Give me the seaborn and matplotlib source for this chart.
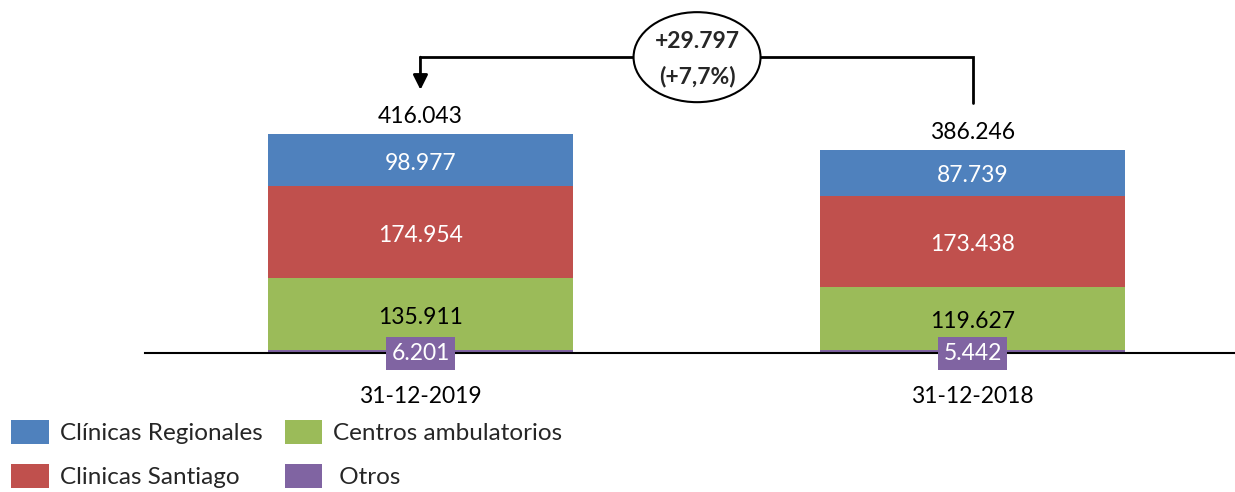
import matplotlib
matplotlib.use("Agg")
import matplotlib.pyplot as plt
from matplotlib.patches import Ellipse, Patch
import numpy as np
import pandas as pd
import seaborn as sns

# Data (stack order from bottom to top)
periods = ["31-12-2019", "31-12-2018"]
otros = [6.201, 5.442]
centros = [135.911, 119.627]
santiago = [174.954, 173.438]
regionales = [98.977, 87.739]
totals = [416.043, 386.246]
variation_abs = "+29.797"
variation_pct = "(+7,7%)"

series_names = ["Otros", "Centros ambulatorios", "Clinicas Santiago", "Clínicas Regionales"]
series_values = [otros, centros, santiago, regionales]
series_colors = ["#8064A2", "#9BBB59", "#C0504D", "#4F81BD"]
label_colors = ["white", "black", "white", "white"]

sns.set_theme(style="white")
plt.rcParams["font.family"] = ["Lato", "DejaVu Sans"]
FS = 16.5
LEG_FS = 17.5


def fmt(v):
    return f"{v:,.3f}".replace(",", "")


fig = plt.figure(figsize=(12.35, 4.92), dpi=100)
ax = fig.add_axes([145 / 1235, 139 / 492, 1090 / 1235, 353 / 492])

# Cumulative tops, drawn from the tallest down so each layer covers the one above
cum = np.cumsum(np.array(series_values), axis=0)
bar_width = 0.5525
for i in range(len(series_values) - 1, -1, -1):
    df = pd.DataFrame({"period": periods, "top": cum[i]})
    sns.barplot(data=df, x="period", y="top", order=periods, color=series_colors[i],
                saturation=1, width=bar_width, ax=ax, linewidth=0)

# Segment labels
text_nudge = 6
for i, vals in enumerate(series_values):
    for j, v in enumerate(vals):
        bottom = cum[i][j] - v
        if i == 0:
            ax.text(j, -1, fmt(v), ha="center", va="center", fontsize=FS, color="white",
                    bbox=dict(boxstyle="square,pad=0.25", fc=series_colors[0], ec="none"),
                    zorder=5)
        else:
            ax.text(j, bottom + v / 2 - text_nudge, fmt(v), ha="center", va="center",
                    fontsize=FS, color=label_colors[i], zorder=5)

# Totals above the bars
for j, t in enumerate(totals):
    ax.text(j, t + 33, fmt(t), ha="center", va="center", fontsize=FS, color="black")

ax.set_xlim(-0.499, 1.4755)
ax.set_ylim(0, 670.6)
ax.set_xlabel("")
ax.set_ylabel("")
ax.set_yticks([])
ax.tick_params(axis="x", length=0, pad=24, labelsize=FS, colors="black")
for s in ["top", "right", "left"]:
    ax.spines[s].set_visible(False)
ax.spines["bottom"].set_color("black")
ax.spines["bottom"].set_linewidth(1.5)

# Variation connector between the two bars
y_line = 562
ax.plot([1, 1, 0], [475, y_line, y_line], color="black", lw=2, solid_joinstyle="miter",
        clip_on=False)
ax.annotate("", xy=(0, 500), xytext=(0, y_line),
            arrowprops=dict(arrowstyle="-|>", mutation_scale=22, lw=2, color="black",
                            shrinkA=0, shrinkB=0))
ell = Ellipse((0.501, 562), width=0.23, height=171, fc="white", ec="black", lw=1.5,
              zorder=4, clip_on=False)
ax.add_patch(ell)
ax.text(0.501, 558, f"{variation_abs}\n{variation_pct}", ha="center", va="center",
        fontsize=FS, fontweight="bold", linespacing=1.75, zorder=5)

# Legend
legend_order = [3, 2, 1, 0]
handles = [Patch(facecolor=series_colors[k], edgecolor="none") for k in legend_order]
labels = [series_names[k] if k != 0 else " " + series_names[k] for k in legend_order]
fig.legend(handles, labels, loc="lower left", bbox_to_anchor=(5 / 1235, -2 / 492), ncol=2,
           frameon=False, fontsize=LEG_FS, handlelength=1.56, handleheight=1.15,
           handletextpad=0.45, columnspacing=0.9, labelspacing=0.8, borderpad=0.1,
           borderaxespad=0.15)

fig.savefig("out.png", dpi=100)
